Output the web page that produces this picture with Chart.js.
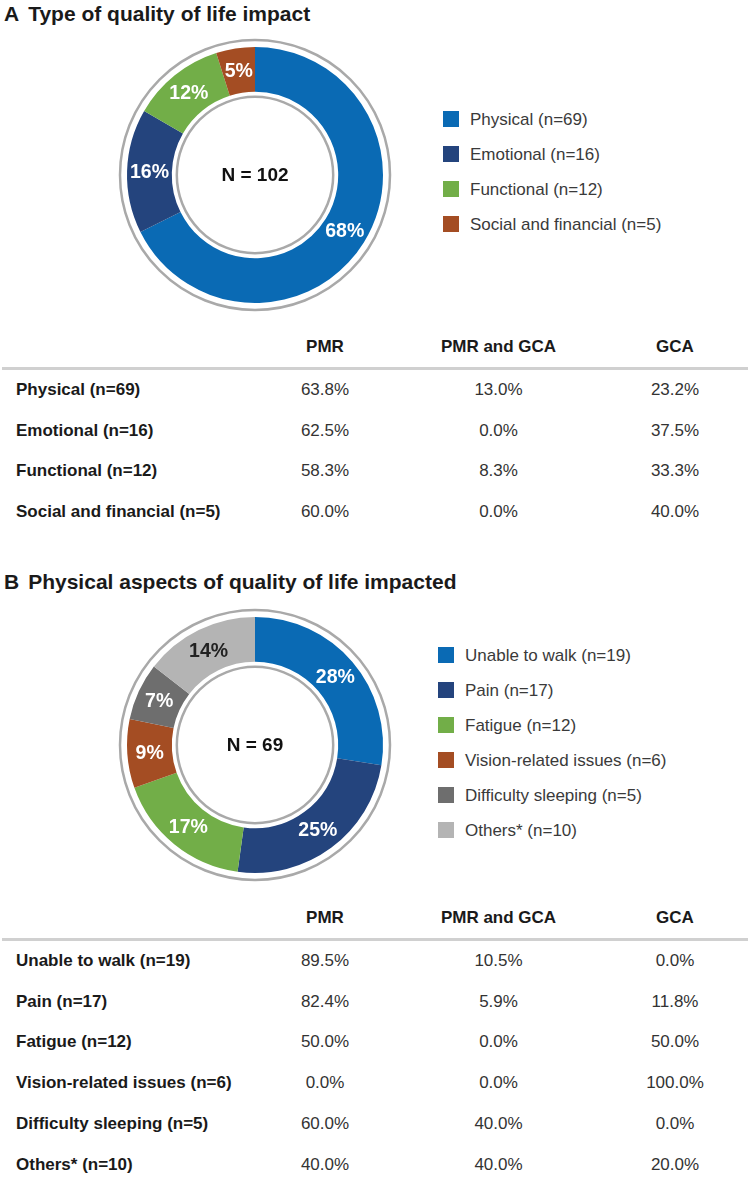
<!DOCTYPE html>
<html>
<head>
<meta charset="utf-8">
<script src="https://cdn.jsdelivr.net/npm/chart.js@4/dist/chart.umd.min.js"></script>
<style>
  body { margin: 0; background: #fff; font-family: "Liberation Sans", Arial, sans-serif; color: #222; }
  #page { position: relative; width: 750px; height: 1177px; overflow: hidden; }
  .title { position: absolute; left: 4px; font-size: 21px; font-weight: bold; color: #1a1a1a; white-space: nowrap; }
  .title span { margin-right: 9px; }
  .donut { position: absolute; left: 110px; width: 290px; height: 290px; }
  .legend { position: absolute; font-size: 17px; color: #3a3a3a; }
  .legend div { position: relative; height: 35px; line-height: 35px; padding-left: 27px; white-space: nowrap; }
  .legend i { position: absolute; left: 0; top: 9px; width: 16px; height: 16px; }
  table { position: absolute; left: 2px; width: 746px; border-collapse: separate; border-spacing: 0; font-size: 17px; table-layout: fixed; }
  th, td { padding: 0; }
  th { font-weight: bold; color: #1a1a1a; height: 40px; line-height: 40px; text-align: center; border-bottom: 3px solid #d0d0d0; }
  td { height: 40.7px; line-height: 40.7px; text-align: center; color: #333; white-space: nowrap; }
  td.lab { text-align: left; padding-left: 14px; font-weight: bold; color: #1a1a1a; }
</style>
</head>
<body>
<div id="page">
  <div class="title" style="top:2px"><span>A</span>Type of quality of life impact</div>
  <canvas id="donutA" class="donut" style="top:30px"></canvas>
  <div id="legendA" class="legend" style="left:443px; top:102px"></div>
  <table id="tableA" style="top:327px"></table>

  <div class="title" style="top:570px"><span>B</span>Physical aspects of quality of life impacted</div>
  <canvas id="donutB" class="donut" style="top:600px"></canvas>
  <div id="legendB" class="legend" style="left:438px; top:638px"></div>
  <table id="tableB" style="top:898px"></table>
</div>
<script>
// panel A data
const typeLabels = ["Physical (n=69)", "Emotional (n=16)", "Functional (n=12)", "Social and financial (n=5)"];
const typeCounts = [69, 16, 12, 5];
const typeColors = ["#0a6ab4", "#24447d", "#72ae48", "#a44d23"];
const typeTotal = "N = 102";

// panel B data
const physLabels = ["Unable to walk (n=19)", "Pain (n=17)", "Fatigue (n=12)", "Vision-related issues (n=6)", "Difficulty sleeping (n=5)", "Others* (n=10)"];
const physCounts = [19, 17, 12, 6, 5, 10];
const physColors = ["#0a6ab4", "#24447d", "#72ae48", "#a44d23", "#6e6e6e", "#b4b4b4"];
const physTotal = "N = 69";

// tables
const tableCols = ["PMR", "PMR and GCA", "GCA"];
const pmrA = ["63.8%", "62.5%", "58.3%", "60.0%"];
const bothA = ["13.0%", "0.0%", "8.3%", "0.0%"];
const gcaA = ["23.2%", "37.5%", "33.3%", "40.0%"];
const pmrB = ["89.5%", "82.4%", "50.0%", "0.0%", "60.0%", "40.0%"];
const bothB = ["10.5%", "5.9%", "0.0%", "0.0%", "40.0%", "40.0%"];
const gcaB = ["0.0%", "11.8%", "50.0%", "100.0%", "0.0%", "20.0%"];

/*
  @desc: draws the grey rings, the % labels and the N in the middle
*/
const donutExtras = {
  id: "donutExtras",
  afterDraw(chart, args, opts) {
    const ctx = chart.ctx;
    const arcs = chart.getDatasetMeta(0).data;
    const cx = arcs[0].x, cy = arcs[0].y;
    const outer = arcs[0].outerRadius, inner = arcs[0].innerRadius;
    ctx.save();
    ctx.strokeStyle = "#a9a9a9";
    ctx.lineWidth = 2.5;
    ctx.beginPath(); ctx.arc(cx, cy, outer + 7, 0, Math.PI * 2); ctx.stroke();
    ctx.beginPath(); ctx.arc(cx, cy, inner - 5, 0, Math.PI * 2); ctx.stroke();

    const vals = chart.data.datasets[0].data;
    const total = vals.reduce((a, b) => a + b, 0);
    ctx.font = "bold 19.5px 'Liberation Sans', Arial, sans-serif";
    ctx.textAlign = "center";
    ctx.textBaseline = "middle";
    arcs.forEach((arc, i) => {
      const p = arc.tooltipPosition();
      ctx.fillStyle = opts.dark && opts.dark.includes(i) ? "#222" : "#fff";
      ctx.fillText(Math.round(vals[i] / total * 100) + "%", p.x, p.y + 1);
    });
    ctx.fillStyle = "#111";
    ctx.font = "bold 19px 'Liberation Sans', Arial, sans-serif";
    ctx.fillText(opts.center, cx, cy + 1);
    ctx.restore();
  }
};

function makeDonut(id, counts, colors, center, dark) {
  return new Chart(document.getElementById(id), {
    type: "doughnut",
    data: {
      labels: counts.map(String),
      datasets: [{ data: counts, backgroundColor: colors, borderWidth: 0 }]
    },
    options: {
      responsive: false,
      animation: false,
      cutout: "65%",
      layout: { padding: 17 },
      plugins: {
        legend: { display: false },
        tooltip: { enabled: false },
        donutExtras: { center: center, dark: dark }
      }
    },
    plugins: [donutExtras]
  });
}

function makeLegend(id, labels, colors) {
  const box = document.getElementById(id);
  labels.forEach((l, i) => {
    const row = document.createElement("div");
    row.innerHTML = `<i style="background:${colors[i]}"></i>${l}`;
    box.appendChild(row);
  });
}

function makeTable(id, labels, c1, c2, c3) {
  const t = document.getElementById(id);
  let html = `<colgroup><col style="width:253px"><col style="width:140px"><col style="width:207px"><col style="width:146px"></colgroup>`;
  html += `<tr><th></th><th>${tableCols[0]}</th><th>${tableCols[1]}</th><th>${tableCols[2]}</th></tr>`;
  labels.forEach((l, i) => {
    html += `<tr><td class="lab">${l}</td><td>${c1[i]}</td><td>${c2[i]}</td><td>${c3[i]}</td></tr>`;
  });
  t.innerHTML = html;
}

makeDonut("donutA", typeCounts, typeColors, typeTotal, []);
makeDonut("donutB", physCounts, physColors, physTotal, [5]);
makeLegend("legendA", typeLabels, typeColors);
makeLegend("legendB", physLabels, physColors);
makeTable("tableA", typeLabels, pmrA, bothA, gcaA);
makeTable("tableB", physLabels, pmrB, bothB, gcaB);
</script>
</body>
</html>
